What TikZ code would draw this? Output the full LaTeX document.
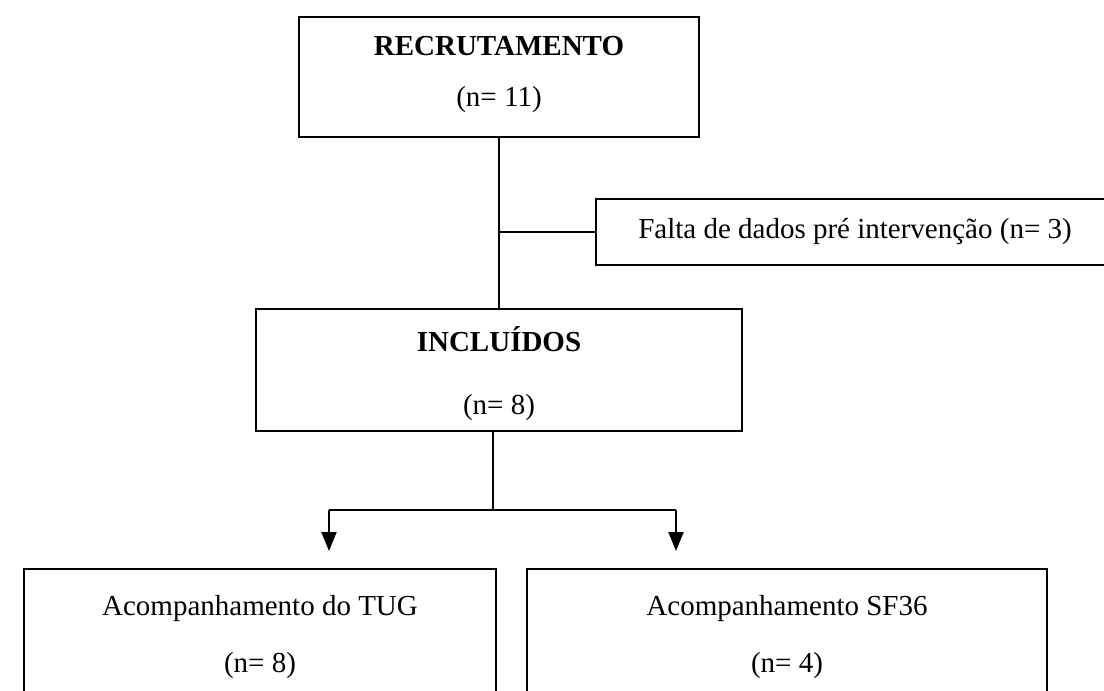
\documentclass[tikz,border=0pt]{standalone}
\usepackage{fontspec}
\setmainfont{Liberation Serif}
\usetikzlibrary{arrows.meta}
\begin{document}
\begin{tikzpicture}[x=1pt,y=-1pt,
  box/.style={draw,line width=2pt,inner sep=0pt},
  lbl/.style={font=\fontsize{29}{35}\selectfont,inner sep=0pt,anchor=center},
  ttl/.style={lbl,font=\fontsize{29}{35}\selectfont\bfseries},
  conn/.style={line width=2pt},
  arr/.style={conn,-{Triangle[length=19pt,width=15pt]}}]
\useasboundingbox (0,0) rectangle (1104,691);
\clip (0,0) rectangle (1104,691);
% boxes
\node[box,minimum width=400pt,minimum height=120pt] (b1) at (499,77) {};
\node[box,minimum width=519pt,minimum height=66pt] (side) at (855.5,232) {};
\node[box,minimum width=486pt,minimum height=122pt] (b2) at (499,370) {};
\node[box,minimum width=472pt,minimum height=152pt] (b3) at (260,645) {};
\node[box,minimum width=520pt,minimum height=152pt] (b4) at (787,645) {};
% texts
\node[ttl] (t1) at (499,46) {RECRUTAMENTO};
\node[lbl] (n1) at (499,100) {(n= 11)};
\node[lbl] (ts) at (855,232) {Falta de dados pré intervenção (n= 3)};
\node[ttl] (t2) at (499,339) {INCLUÍDOS};
\node[lbl] (n2) at (499,408) {(n= 8)};
\node[lbl] (t3) at (260,609) {Acompanhamento do TUG};
\node[lbl] (n3) at (260,666) {(n= 8)};
\node[lbl] (t4) at (787,609) {Acompanhamento SF36};
\node[lbl] (n4) at (787,666) {(n= 4)};
% connectors
\draw[conn] (b1.south) -- (b1.south |- b2.north);
\draw[conn] (b1.south |- side.west) -- (side.west);
\coordinate (j) at (493,510);
\coordinate (l) at (329,510);
\coordinate (r) at (676,510);
\coordinate (lt) at (329,551);
\coordinate (rt) at (676,551);
\draw[conn] (b2.south -| j) -- (j);
\draw[conn] (l) -- (r);
\draw[arr] (l) -- (lt);
\draw[arr] (r) -- (rt);
\end{tikzpicture}
\end{document}
